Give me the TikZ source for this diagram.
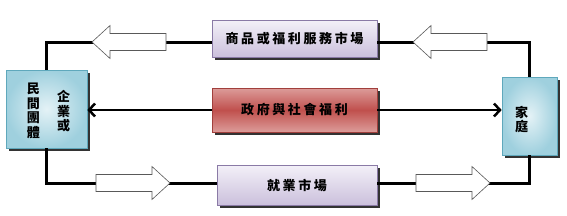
\documentclass[tikz,border=0pt]{standalone}
\usepackage{fontspec}
\newfontfamily\cjk{Noto Sans CJK TC}
\usetikzlibrary{arrows.meta, positioning, calc, shadows}

\definecolor{blueedge}{HTML}{5FA8BC}
\definecolor{bluein}{HTML}{E4F2F6}
\definecolor{blueout}{HTML}{9FD0DE}
\definecolor{lavtop}{HTML}{F3F0F8}
\definecolor{lavbot}{HTML}{CBC0DC}
\definecolor{lavedge}{HTML}{8A7AA6}
\definecolor{redmid}{HTML}{C0504D}
\definecolor{redtop}{HTML}{DC9C9A}
\definecolor{rededge}{HTML}{A13F3C}

\tikzset{
  shade/.style={drop shadow={shadow xshift=2.5pt, shadow yshift=-2.5pt, fill=black!80, opacity=1}},
  agent/.style={draw=blueedge, line width=0.6pt, inner sep=0pt, inner color=bluein, outer color=blueout, shade},
  market/.style={draw=lavedge, line width=0.6pt, inner sep=0pt, top color=lavtop, bottom color=lavbot, shade,
    font=\cjk\bfseries\fontsize{13}{15}\selectfont\addfontfeature{LetterSpace=20}},
  state/.style={draw=rededge, line width=0.6pt, inner sep=0pt, top color=redtop, bottom color=redtop, middle color=redmid, shade,
    font=\cjk\bfseries\fontsize{13}{15}\selectfont\addfontfeature{LetterSpace=20}},
  vtext/.style={align=center, inner sep=0pt, font=\cjk\bfseries\fontsize{13}{14.5}\selectfont},
  loopline/.style={line width=3pt},
  arrowedge/.style={fill=white, draw=black!65, line width=0.6pt},
  fatarrow/.pic={\draw[arrowedge] (0,-8.5) -- (56,-8.5) -- (56,-16.5) -- (74,0) -- (56,16.5) -- (56,8.5) -- (0,8.5) -- cycle;}
}

\begin{document}
\begin{tikzpicture}[x=1pt, y=1pt]
  \useasboundingbox (0,0) rectangle (567,215);

  % Firms and households
  \node[agent, minimum width=81pt, minimum height=78pt] (firm) at (46.5,106) {};
  \node[vtext] (firmL) at ($(firm.center)+(-13,-2)$) {民\\間\\團\\體};
  \node[vtext] (firmR) at ($(firm.center)+(17,-2.5)$) {企\\業\\或};
  \node[agent, minimum width=55pt, minimum height=78pt] (home) at (529.5,99) {};
  \node[vtext] (homeT) at ($(home.center)+(-8,-3.5)$) {家\\庭};

  % Markets and government
  \node[market, minimum width=165pt, minimum height=37pt] (goods) at (294.5,176.5) {商品或福利服務市場};
  \node[state, minimum width=165pt, minimum height=44pt] (gov) at (294.5,105) {政府與社會福利};
  \node[market, minimum width=160pt, minimum height=40pt] (jobs) at (297,30) {就業市場};

  % Circular flow
  \coordinate (topline) at (0,173);
  \coordinate (botline) at (0,32);
  \draw[loopline] (firm.north) |- (goods.west |- topline);
  \draw[loopline] (goods.east |- topline) -| (home.north);
  \draw[loopline] (firm.south) |- (jobs.west |- botline);
  \draw[loopline] (jobs.east |- botline) -| (home.south);

  % Flow direction
  \pic[xscale=-1] at (166,173) {fatarrow};
  \pic[xscale=-1] at (487,173) {fatarrow};
  \pic at (96,32) {fatarrow};
  \pic at (416,32) {fatarrow};

  % Government links
  \draw[line width=2.5pt, -{Straight Barb[length=6pt, width=13pt, line width=2.5pt]}] (gov.west) -- (gov.west -| firm.east);
  \draw[line width=2.5pt, -{Straight Barb[length=6pt, width=13pt, line width=2.5pt]}] (gov.east) -- (gov.east -| home.west);
\end{tikzpicture}
\end{document}
